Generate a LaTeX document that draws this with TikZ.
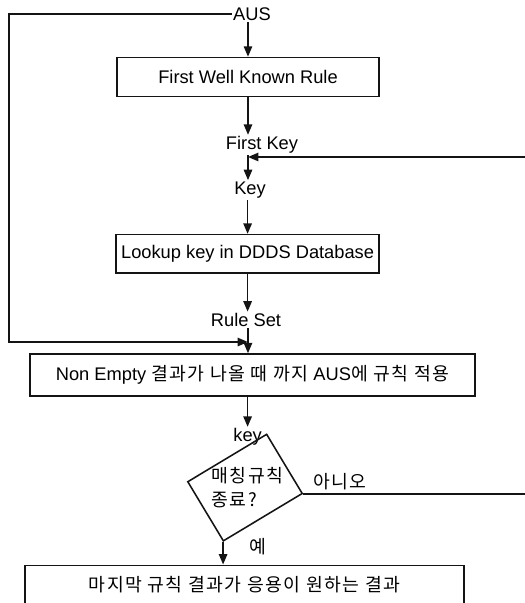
\documentclass[tikz,border=0pt]{standalone}
\usepackage{fontspec}
\setmainfont{Liberation Sans}
\newfontfamily\krfont[LetterSpace=8]{Noto Sans CJK KR}
\usetikzlibrary{arrows.meta,positioning,calc}
\definecolor{flink}{RGB}{20,20,20}
\definecolor{flpaper}{RGB}{255,255,255}
\tikzset{
  stepbox/.style={
    draw=flink, line width=1.1pt, align=center, inner xsep=2pt, inner ysep=0pt
  },
  lbl/.style={inner sep=1pt, align=left},
  krlbl/.style={lbl, font=\krfont\fontsize{13}{17}\selectfont},
  arr/.style={-{Triangle[length=2.6mm,width=2.1mm]}, draw=flink, line width=1.1pt},
  every picture/.append style={font=\fontsize{13}{17}\selectfont, line join=miter}
}
\begin{document}
\begin{tikzpicture}[x=1cm,y=1cm]
  \useasboundingbox[fill=flpaper] (0,0) rectangle (13.1,-15.075);
  % main column, top to bottom
  \node[lbl] (aus) at (6.3,-0.35) {AUS};
  \node[stepbox, minimum width=6.55cm, minimum height=0.975cm] (wkr) at (6.2,-1.925)
    {First Well Known Rule};
  \node[lbl] (fkey) at (6.55,-3.625) {First Key};
  \coordinate (fkjoin) at (6.2,-3.925);
  \node[lbl] (key) at (6.25,-4.75) {Key};
  \node[stepbox, minimum width=6.575cm, minimum height=0.96cm] (lookup) at (6.19,-6.344)
    {Lookup key in DDDS Database};
  \node[lbl] (rule) at (6.15,-8.0) {Rule Set};
  \coordinate (rsjoin) at (6.2,-8.55);
  \coordinate (lft) at (0.225,-8.55);
  \node[stepbox, minimum width=11.125cm, minimum height=1.05cm] (apply) at (6.3125,-9.375)
    {Non Empty {\krfont 결과가 나올 때 까지} AUS{\krfont 에 규칙 적용}};
  \node[lbl] (key2) at (6.19,-10.925) {key};
  % tilted decision box, text kept upright
  \node[draw=flink, line width=1.1pt, rotate=31, minimum width=2.3cm, minimum height=1.725cm]
    (match) at (6.125,-12.19) {};
  \node[krlbl, anchor=west] (matchtxt) at (5.25,-12.2) {매칭규칙\\종료?};
  \node[krlbl] (no) at (8.5,-12.05) {아니오};
  \coordinate (rt) at (13.6,-3.925);
  \node[krlbl] (yes) at (6.44,-13.675) {예};
  \node[stepbox, anchor=north, minimum width=10.975cm, text height=0.66cm, text depth=0.6cm]
    (result) at (6.1125,-14.1125)
    {\krfont 마지막 규칙 결과가 응용이 원하는 결과};
  % connectors
  \draw[arr] (wkr.north |- aus.south) -- (wkr.north);
  \draw[arr] (wkr.south) -- (wkr.south |- fkey.north);
  \draw[arr] (fkjoin |- fkey.south) -- (fkjoin |- key.north);
  \draw[arr] (key.north -| lookup.north) ++(0,-0.5) -- (lookup.north);
  \draw[arr] (lookup.south) -- (lookup.south |- rule.north);
  \draw[arr] (aus.west) -| (lft) -- (rsjoin);
  \draw[arr] (rsjoin |- rule.south) -- (rsjoin |- apply.north);
  \draw[arr] (apply.south -| key2.north) -- (key2.north);
  \draw[arr] (match.south east) -- (match.south east -| rt) -- (rt) -- (fkjoin);
  \draw[arr] (match.south west) -- (match.south west |- result.north);
\end{tikzpicture}
\end{document}
